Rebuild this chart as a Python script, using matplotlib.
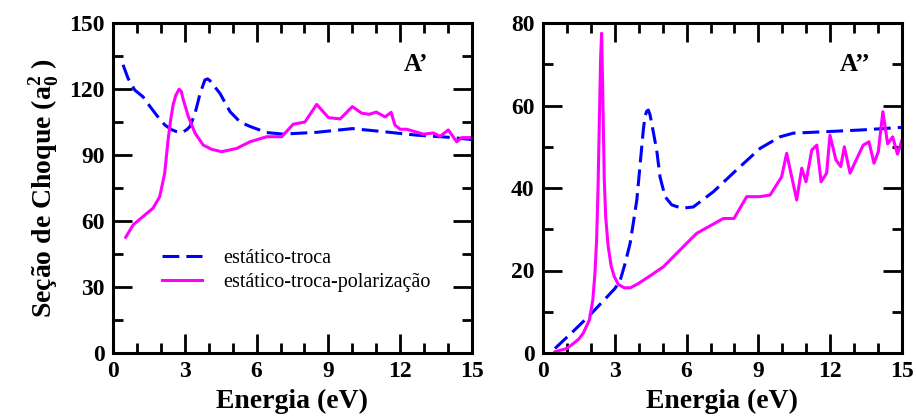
import matplotlib
matplotlib.use("Agg")
import matplotlib.pyplot as plt
from matplotlib.ticker import MultipleLocator

# ---------------- data ----------------
# Panel A' : static-exchange (dashed blue)
ap_se_E = [0.42, 0.63, 0.91, 1.25, 1.55, 1.9, 2.17, 2.45, 2.66, 2.8, 2.94, 3.08, 3.22, 3.43, 3.64, 3.84, 3.95, 4.05,
           4.25, 4.47, 4.89, 5.31, 5.72, 6.42, 7.1, 8.5, 10.0, 11.3, 12.7, 14.1, 15.0]
ap_se_S = [131, 124.8, 119.5, 116.5, 112, 107, 103.6, 101.5, 100.6, 100.2, 100.6, 101.5, 103, 109, 118, 124.1, 124.6, 123.8,
           121, 118, 109.7, 105, 103, 100.2, 99.5, 100.3, 102, 100.6, 99, 98, 97]
# Panel A' : static-exchange-polarization (solid magenta)
ap_sep_E = [0.53, 0.84, 1.25, 1.67, 1.95, 2.16, 2.30, 2.41, 2.51, 2.62, 2.76, 2.85, 2.94, 3.15, 3.43, 3.77, 4.12, 4.54,
            5.17, 5.72, 6.42, 7.05, 7.53, 8.02, 8.51, 9.0, 9.49, 10.0, 10.39, 10.7, 11.0, 11.37, 11.62, 11.78, 12.0,
            12.27, 12.97, 13.39, 13.67, 14.01, 14.36, 14.57, 15.0]
ap_sep_S = [52.6, 58.2, 62, 65.8, 71, 81.7, 96.8, 106, 112.7, 117, 119.9, 119, 115, 107.4, 99.9, 94.5, 92.6, 91.5,
            93, 96, 98.3, 98.3, 104, 105, 113, 107, 106.4, 112, 109, 108.5, 109.5, 107.3, 109.4, 103.6, 101.7,
            101.7, 99.5, 100, 98.5, 101.4, 96, 97.9, 97.9]

# Panel A'' : static-exchange (dashed blue)
app_se_E = [0.5, 1.27, 1.96, 2.66, 3.0, 3.22, 3.43, 3.64, 3.77, 3.92, 4.05, 4.19, 4.26, 4.33, 4.40, 4.47, 4.54, 4.75,
            4.89, 5.10, 5.38, 5.80, 6.28, 7.12, 8.09, 9.07, 9.9, 10.46, 12.0, 13.4, 15.0]
app_se_S = [1.1, 5.3, 9.2, 13.5, 15.6, 17.5, 21.7, 26.6, 31.4, 37.1, 45.2, 54, 57.3, 58.6, 58.9, 57.8, 55.7, 49.2,
            42.7, 37.9, 35.9, 35.1, 35.4, 39.1, 44.4, 49.6, 52.4, 53.3, 53.7, 54.1, 54.7]
# Panel A'' : static-exchange-polarization (solid magenta)
app_sep_E = [0.5, 0.99, 1.27, 1.5, 1.68, 1.94, 2.08, 2.17, 2.24, 2.30, 2.36, 2.41, 2.45, 2.50, 2.56, 2.62, 2.72, 2.85,
             2.98, 3.15, 3.4, 3.65, 4.0, 4.5, 5.03, 6.14, 6.42, 7.53, 7.98, 8.51, 9.06, 9.49, 9.97, 10.18, 10.6,
             10.81, 10.99, 11.23, 11.44, 11.62, 11.85, 11.99, 12.24, 12.44, 12.59, 12.83, 13.06, 13.38, 13.62,
             13.83, 14.01, 14.2, 14.4, 14.61, 14.81, 15.0]
app_sep_S = [0.3, 1.1, 2.3, 3.4, 4.8, 8.0, 12.8, 19.3, 27.4, 40, 58, 72, 77.5, 62, 42, 33, 26, 21,
             18.5, 16.6, 15.8, 15.8, 16.9, 18.8, 20.9, 27.4, 29, 32.6, 32.6, 37.9, 37.9, 38.3, 42.7, 48.4, 37.1,
             44.8, 41.5, 49.2, 50.4, 41.5, 43.6, 52.8, 46.8, 45.2, 50, 43.6, 46.5, 50.4, 51.2,
             46, 48.8, 58.5, 50.7, 52.4, 48.2, 51.6]

legend_labels = ["estático-troca", "estático-troca-polarização"]
panel_labels = ["A\u2019", "A\u2019\u2019"]
xlabel = "Energia (eV)"
ylabel = "Seção de Choque (a$_0^{2}$ )"

# ---------------- style ----------------
plt.rcParams["font.family"] = ["Liberation Serif", "DejaVu Serif"]
plt.rcParams["font.weight"] = "bold"
plt.rcParams["mathtext.fontset"] = "custom"
plt.rcParams["mathtext.rm"] = "Liberation Serif:bold"
plt.rcParams["mathtext.it"] = "Liberation Serif:bold"
plt.rcParams["mathtext.bf"] = "Liberation Serif:bold"
plt.rcParams["mathtext.default"] = "rm"

W, H = 916, 418
fig = plt.figure(figsize=(W / 100, H / 100), dpi=100)

def px_axes(x0, y0, x1, y1):
    return [x0 / W, 1 - y1 / H, (x1 - x0) / W, (y1 - y0) / H]

ax1 = fig.add_axes(px_axes(113, 23, 472, 353))
ax2 = fig.add_axes(px_axes(543, 23, 902, 353))

blue = "#0000ff"
mag = "#ff00ff"
lw = 2.2
dash = (5.5, 2.3)

for ax, (seE, seS, sepE, sepS), ymax, ymaj, ymin in [
    (ax1, (ap_se_E, ap_se_S, ap_sep_E, ap_sep_S), 150, 30, 15),
    (ax2, (app_se_E, app_se_S, app_sep_E, app_sep_S), 80, 20, 10),
]:
    ax.plot(seE, seS, color=blue, lw=lw, dashes=dash, label=legend_labels[0])
    ax.plot(sepE, sepS, color=mag, lw=lw, label=legend_labels[1])
    ax.set_xlim(0, 15)
    ax.set_ylim(0, ymax)
    ax.xaxis.set_major_locator(MultipleLocator(3))
    ax.xaxis.set_minor_locator(MultipleLocator(1))
    ax.yaxis.set_major_locator(MultipleLocator(ymaj))
    ax.yaxis.set_minor_locator(MultipleLocator(ymin))
    ax.tick_params(which="both", direction="in", top=True, right=True, width=2.0)
    ax.tick_params(which="major", length=14)
    ax.tick_params(which="minor", length=7)
    ax.tick_params(axis="both", which="major", labelsize=17, pad=6)
    for sp in ax.spines.values():
        sp.set_linewidth(2.2)
    for lab in ax.get_xticklabels() + ax.get_yticklabels():
        lab.set_fontweight("bold")
    ax.set_xlabel(xlabel, fontsize=20, fontweight="bold", labelpad=5)

ax1.set_ylabel(ylabel, fontsize=20, fontweight="bold", labelpad=6)

ax1.text(0.845, 0.873, panel_labels[0], transform=ax1.transAxes, fontsize=18,
         fontweight="bold", ha="center", va="center")
ax2.text(0.87, 0.873, panel_labels[1], transform=ax2.transAxes, fontsize=18,
         fontweight="bold", ha="center", va="center")

leg = ax1.legend(loc="center left", bbox_to_anchor=(0.136, 0.25), frameon=False,
                 prop={"family": "Liberation Serif", "weight": "normal", "size": 14.5},
                 handlelength=2.0, handletextpad=1.05, labelspacing=0.25,
                 borderpad=0, borderaxespad=0)

fig.savefig("out.png", dpi=100)
